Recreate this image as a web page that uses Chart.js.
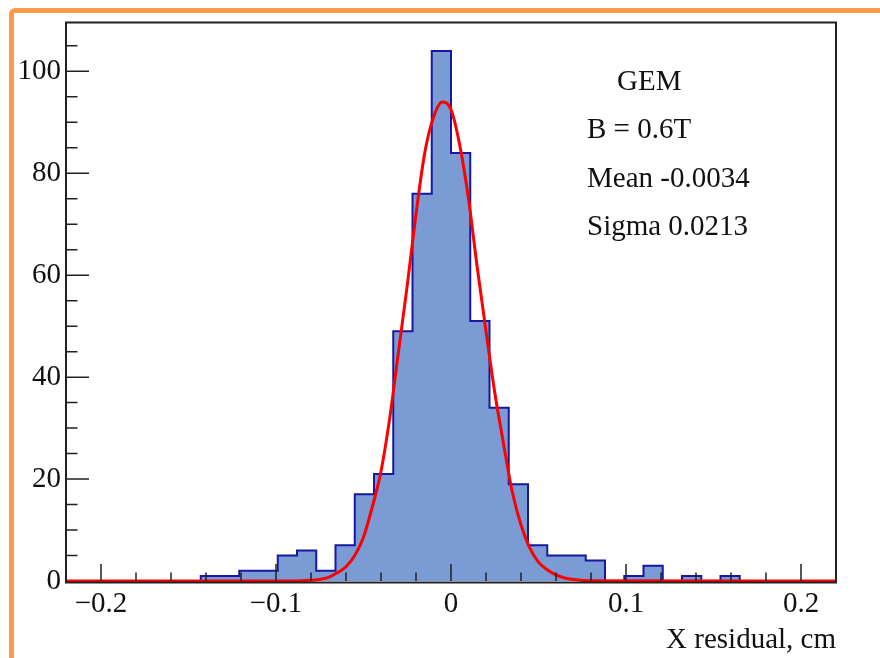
<!DOCTYPE html>
<html>
<head>
<meta charset="utf-8">
<script src="https://cdn.jsdelivr.net/npm/chart.js@4/dist/chart.umd.min.js"></script>
<style>
  html, body { margin: 0; padding: 0; background: #fff; }
  #wrap { position: relative; width: 880px; height: 658px; overflow: hidden; }
  #border { position: absolute; left: 9px; top: 8px; width: 900px; height: 700px;
            border-top: 5px solid #f89a4c; border-left: 5px solid #f89a4c;
            border-top-left-radius: 6px; }
  #c { position: absolute; left: 0; top: 0; }
</style>
</head>
<body>
<div id="wrap">
  <div id="border"></div>
  <canvas id="c" width="880" height="658"></canvas>
</div>
<script>
// ── Data ──────────────────────────────────────────────────────────────────
const binStart = -0.22;
const binWidth = 0.011;
const binCounts = [0, 0, 0, 0, 0, 0, 0, 1, 1, 2,
                   2, 5, 6, 2, 7, 17, 21, 49, 76, 104,
                   84, 51, 34, 19, 7, 5, 5, 4, 0, 1,
                   3, 0, 1, 0, 1, 0, 0, 0, 0, 0];

// gaussian fit
const fitX = [-0.22, -0.09, -0.08, -0.075, -0.07, -0.065, -0.06, -0.055, -0.05, -0.045,
              -0.04, -0.035, -0.03, -0.025, -0.02, -0.015, -0.01, -0.005, 0, 0.005,
              0.01, 0.015, 0.02, 0.025, 0.03, 0.035, 0.04, 0.045, 0.05, 0.055,
              0.06, 0.065, 0.07, 0.08, 0.22];
const fitY = [0, 0, 0.15, 0.3, 0.7, 1.6, 2.8, 5.0, 8.6, 14.5,
              21.5, 32, 45, 58, 72, 84, 91, 94, 92.5, 85.5,
              75, 61.5, 49, 37, 27, 17.5, 11, 6.5, 3.7, 2.2,
              1.2, 0.6, 0.3, 0.05, 0];

const xMajor = [-0.2, -0.1, 0, 0.1, 0.2];
const xMinor = [-0.18, -0.16, -0.14, -0.12, -0.08, -0.06, -0.04, -0.02,
                0.02, 0.04, 0.06, 0.08, 0.12, 0.14, 0.16, 0.18];
const yMajor = [0, 20, 40, 60, 80, 100];
const yMinor = [5, 10, 15, 25, 30, 35, 45, 50, 55, 65, 70, 75, 85, 90, 95, 105];

const statLines = ['GEM', 'B = 0.6T', 'Mean -0.0034', 'Sigma 0.0213'];
const xTitle = 'X residual, cm';

// ── Build datasets ────────────────────────────────────────────────────────
const histPts = binCounts.map((c, i) => ({ x: binStart + i * binWidth, y: c }));
histPts.push({ x: binStart + binCounts.length * binWidth, y: binCounts[binCounts.length - 1] });
const fitPts = fitX.map((x, i) => ({ x, y: fitY[i] }));

const FONT = 'Liberation Serif';
const fmt = v => v < 0 ? '\u2212' + Math.abs(v) : String(v);

// ── Frame, inward ticks, stats text ──────────────────────────────────────
const rootFrame = {
  id: 'rootFrame',
  afterDatasetsDraw(chart) {
    const { ctx, chartArea: a, scales: { x, y } } = chart;
    ctx.save();
    ctx.strokeStyle = '#222';
    ctx.lineWidth = 1.5;
    ctx.beginPath();
    const tick = (px, len, horiz) => {
      if (horiz) { ctx.moveTo(px, a.bottom); ctx.lineTo(px, a.bottom - len); }
      else       { ctx.moveTo(a.left, px);   ctx.lineTo(a.left + len, px); }
    };
    xMajor.forEach(v => tick(x.getPixelForValue(v), 17, true));
    xMinor.forEach(v => tick(x.getPixelForValue(v), 8.5, true));
    // the 0 tick lies on the x axis itself, under the fit line
    yMajor.filter(v => v > 0).forEach(v => tick(y.getPixelForValue(v), 23, false));
    yMinor.forEach(v => tick(y.getPixelForValue(v), 11.5, false));
    ctx.stroke();

    // frame; bottom edge sits just under the fit line like in ROOT
    ctx.lineWidth = 2;
    ctx.beginPath();
    ctx.moveTo(a.left, a.bottom + 1.5);
    ctx.lineTo(a.left, a.top);
    ctx.lineTo(a.right, a.top);
    ctx.lineTo(a.right, a.bottom + 1.5);
    ctx.moveTo(a.left - 1, a.bottom + 1.5);
    ctx.lineTo(a.right + 1, a.bottom + 1.5);
    ctx.stroke();

    ctx.fillStyle = '#111';
    ctx.font = `29px "${FONT}"`;
    ctx.textBaseline = 'alphabetic';
    ctx.textAlign = 'left';
    ctx.fillText(statLines[0], 617, 90);
    ctx.fillText(statLines[1], 587, 138);
    ctx.fillText(statLines[2], 587, 187);
    ctx.fillText(statLines[3], 587, 235);
    ctx.restore();
  }
};

new Chart(document.getElementById('c'), {
  type: 'line',
  plugins: [rootFrame],
  data: {
    datasets: [
      { data: histPts, stepped: true, fill: 'origin',
        borderColor: '#1717a0', backgroundColor: '#7b9bd4',
        borderWidth: 2, pointRadius: 0, order: 2 },
      { data: fitPts, fill: false, cubicInterpolationMode: 'monotone',
        borderColor: '#ff0000', borderWidth: 3, pointRadius: 0, order: 1, clip: 4 }
    ]
  },
  options: {
    responsive: false, animation: false, events: [],
    layout: { padding: { left: 0, right: 44, top: 21, bottom: 0 } },
    plugins: { legend: { display: false }, tooltip: { enabled: false } },
    scales: {
      x: { type: 'linear', min: -0.22, max: 0.22,
           afterBuildTicks: s => { s.ticks = xMajor.map(v => ({ value: v })); },
           afterFit: s => { s.height = 77; },
           grid: { display: false, drawTicks: false }, border: { display: false },
           ticks: { color: '#111', padding: 6, maxRotation: 0, autoSkip: false,
                    font: { family: FONT, size: 29 }, callback: v => fmt(v) },
           title: { display: true, text: xTitle, align: 'end', color: '#111',
                    padding: { top: 0, bottom: 0 }, font: { family: FONT, size: 29 } } },
      y: { type: 'linear', min: 0, max: 109.6,
           afterBuildTicks: s => { s.ticks = yMajor.map(v => ({ value: v })); },
           afterFit: s => { s.width = 66; },
           grid: { display: false, drawTicks: false }, border: { display: false },
           ticks: { color: '#111', padding: 5, autoSkip: false,
                    font: { family: FONT, size: 29 }, callback: v => fmt(v) } }
    }
  }
});
</script>
</body>
</html>
